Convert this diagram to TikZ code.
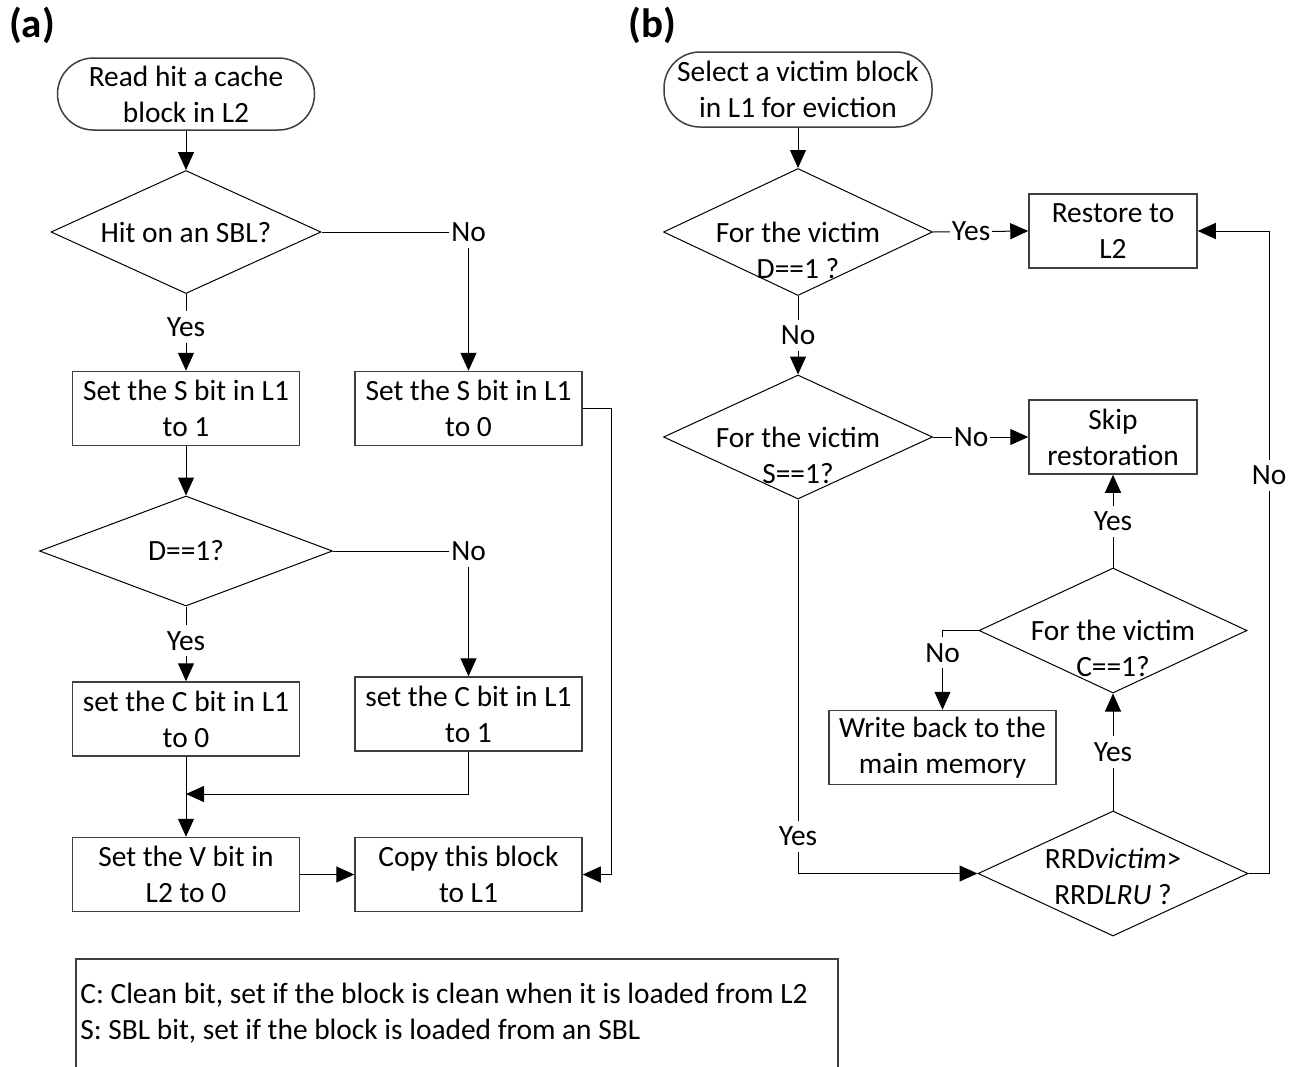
\documentclass[tikz,border=0pt]{standalone}
\usepackage{fontspec}
\setmainfont{Carlito}
\usepackage{tikz}
\usetikzlibrary{arrows.meta, positioning, calc, shapes.geometric}
\definecolor{sbox}{HTML}{3F3F3F}
\tikzset{
  >={Triangle[length=9pt,width=8pt]},
  font=\fontsize{14.7}{18}\selectfont,
  proc/.style={
    draw=sbox, line width=0.75pt, align=center, inner sep=1pt,
    minimum width=113.5pt, minimum height=37pt
  },
  term/.style={
    draw=sbox, line width=0.75pt, align=center, inner sep=0pt,
    rounded corners=18pt
  },
  dec/.style={diamond, draw=black, line width=0.5pt, inner sep=0pt},
  txt/.style={align=center, inner sep=0pt},
  lab/.style={fill=white, inner xsep=1pt, inner ysep=3pt},
  arr/.style={->, line width=0.5pt},
  hdr/.style={font=\fontsize{20.5}{24}\selectfont\bfseries},
  legendbox/.style={
    draw=sbox, line width=0.75pt, inner sep=0pt,
    minimum width=381pt, minimum height=57pt
  }
}
\begin{document}
\begin{tikzpicture}[x=0.5pt, y=-0.5pt]
  \useasboundingbox (0,0) rectangle (1299,1066);

  % (a) copy of an SBL block into L1
  \node[hdr] (lblA) at (32,25) {(a)};
  \node[term, minimum width=128.5pt, minimum height=36pt] (startA) at (186,94) {Read hit a cache\\block in L2};
  \node[dec, minimum width=135pt, minimum height=61.5pt] (sbl) at (186,232) {};
  \node[txt] (sblT) at (sbl) {Hit on an SBL?};
  \node[proc] (s1) at (186,408.5) {Set the S bit in L1\\to 1};
  \node[proc] (s0) at (468.5,408.5) {Set the S bit in L1\\to 0};
  \node[dec, minimum width=146.5pt, minimum height=55pt] (dirty) at (186,551) {};
  \node[txt] (dirtyT) at (dirty) {D==1?};
  \node[proc] (c0) at (186,719) {set the C bit in L1\\to 0};
  \node[proc] (c1) at (468.5,714) {set the C bit in L1\\to 1};
  \node[proc] (v0) at (186,874.5) {Set the V bit in\\L2 to 0};
  \node[proc] (copy) at (468.5,874.5) {Copy this block\\to L1};
  \coordinate (join) at (186,794);
  \coordinate (side) at (611,408.5);

  \draw[arr] (startA.south) -- (sbl.north);
  \draw[arr] (sbl.south) -- node[lab,pos=0.43] {Yes} (s1.north);
  \draw[arr] (sbl.east) -| node[lab] {No} (s0.north);
  \draw[arr] (s1.south) -- (dirty.north);
  \draw[arr] (dirty.south) -- node[lab,pos=0.46] {Yes} (c0.north);
  \draw[arr] (dirty.east) -| node[lab] {No} (c1.north);
  \draw[arr] (c0.south) -- (v0.north);
  \draw[arr] (c1.south) |- (join);
  \draw[arr] (v0.east) -- (copy.west);
  \draw[arr] (s0.east) -- (side) |- (copy.east);

  % (b) eviction of a victim block from L1
  \node[hdr] (lblB) at (652,25) {(b)};
  \node[term, minimum width=134pt, minimum height=37.5pt] (startB) at (798,89.5) {Select a victim block\\in L1 for eviction};
  \node[dec, minimum width=134.5pt, minimum height=63.5pt] (dchk) at (798,232) {};
  \node[txt] (dchkT) at (798,250) {For the victim\\D==1 ?};
  \node[proc, minimum width=84pt] (restore) at (1113,231) {Restore to\\L2};
  \node[dec, minimum width=134.5pt, minimum height=62pt] (schk) at (798,437) {};
  \node[txt] (schkT) at (798,455) {For the victim\\S==1?};
  \node[proc, minimum width=84pt] (skip) at (1113,437) {Skip\\restoration};
  \node[dec, minimum width=134pt, minimum height=62.5pt] (cchk) at (1113,630.5) {};
  \node[txt] (cchkT) at (1113,648) {For the victim\\C==1?};
  \node[proc] (wback) at (942.5,747.5) {Write back to the\\main memory};
  \node[dec, minimum width=135pt, minimum height=62.5pt] (rrd) at (1113,873.5) {};
  \node[txt] (rrdT) at (1113,876) {RRD\textit{victim}>\\RRD\textit{LRU} ?};
  \coordinate (loop) at (1269,873.5);

  \draw[arr] (startB.south) -- (dchk.north);
  \draw[arr] (dchk.east) -- node[lab,pos=0.4] {Yes} (restore.west);
  \draw[arr] (dchk.south) -- node[lab] {No} (schk.north);
  \draw[arr] (schk.east) -- node[lab,pos=0.4] {No} (skip.west);
  \draw[arr] (cchk.north) -- node[lab] {Yes} (skip.south);
  \draw[arr] (cchk.west) -| node[lab,pos=0.64] {No} (wback.north);
  \draw[arr] (rrd.north) -- node[lab] {Yes} (cchk.south);
  \draw[arr] (schk.south) |- node[lab,pos=0.45] {Yes} (rrd.west);
  \draw[arr] (rrd.east) -- (loop) |- node[lab,pos=0.31] {No} (restore.east);

  % legend
  \node[legendbox, anchor=north west] (legend) at (75,958) {};
  \node[txt, align=left, anchor=west] (legendT) at (80,1013) {C: Clean bit, set if the block is clean when it is loaded from L2\\S: SBL bit, set if the block is loaded from an SBL};
\end{tikzpicture}
\end{document}
